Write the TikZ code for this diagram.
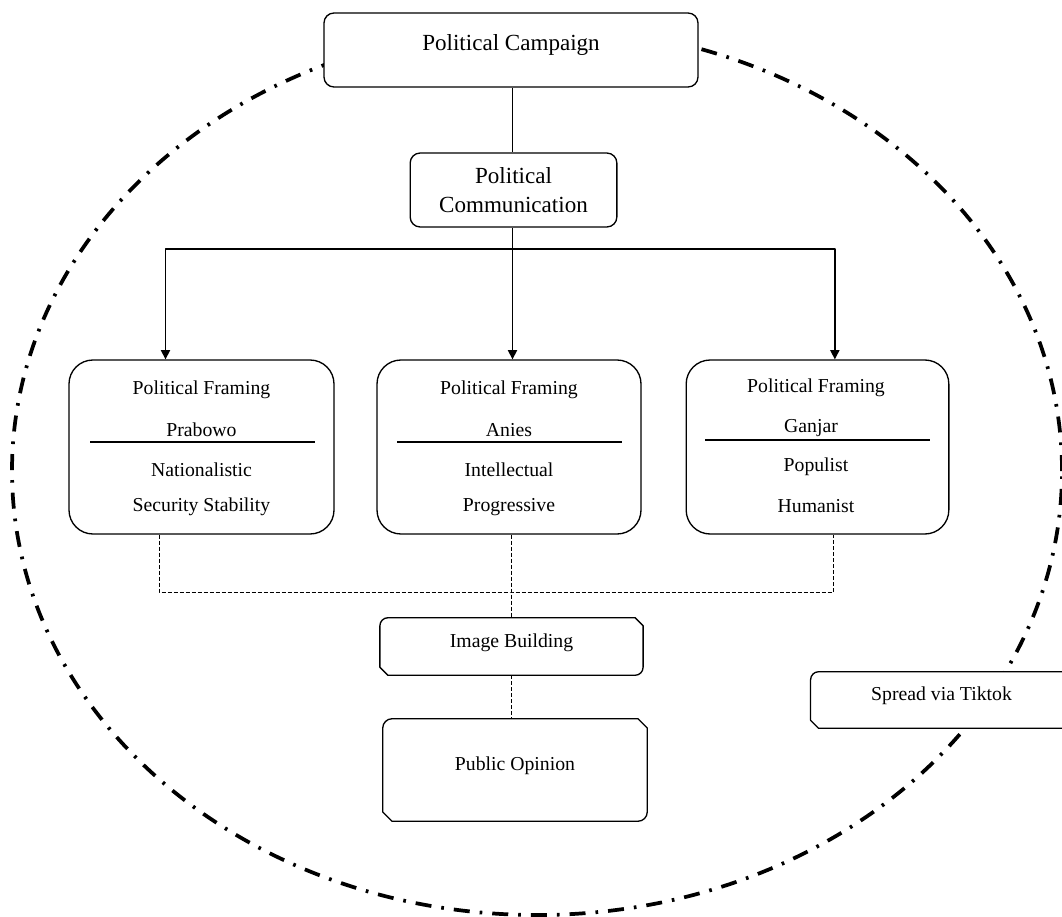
\documentclass[tikz,border=0pt]{standalone}
\usepackage{fontspec}
\setmainfont{Liberation Serif}
\usetikzlibrary{positioning, arrows.meta}

\tikzset{
  box/.style={draw, line width=1pt, fill=white, rounded corners=7.5pt, align=center,
    font=\fontsize{17.3}{21.75}\selectfont},
  framebox/.style={draw, line width=1pt, fill=white, rounded corners=18pt,
    minimum width=#1, minimum height=130.5pt},
  snip/.style={fill=white, inner sep=0pt, font=\fontsize{14.8}{18}\selectfont,
    text height=11pt, text depth=9.6pt},
  words/.style={font=\fontsize{14.8}{18}\selectfont},
  wire/.style={line width=1pt},
  link/.style={line width=0.5pt, dash pattern=on 3pt off 1.5pt},
  bar/.style={line width=1.6pt},
  orbit/.style={line width=2.8pt, dash pattern=on 12pt off 7.5pt on 2pt off 7.5pt}
}

% outline with two snipped and two rounded corners
\newcommand{\snipround}[2]{%
  \draw[wire] ([yshift=-#2]#1.north west) [rounded corners=#2] -- (#1.north west)
    [sharp corners] -- ([xshift=-#2]#1.north east) -- ([yshift=-#2]#1.north east)
    [rounded corners=#2] -- (#1.south east) [sharp corners] -- ([xshift=#2]#1.south west)
    -- ([yshift=#2]#1.south west) -- cycle;}

\begin{document}
\begin{tikzpicture}[x=0.75pt, y=-0.75pt, line join=round, >={Triangle[length=7pt, width=7pt]}]
      \useasboundingbox (0,0) rectangle (1062,916);
      \clip (0,0) rectangle (1062,916);
      % dash-dot ring
      \draw[orbit] (537,471) ellipse [x radius=393.75pt, y radius=333pt];
      % campaign and communication
      \node[box, minimum width=280.5pt, minimum height=55.5pt, text height=13pt, text depth=11.5pt] (camp) at (511,50) {Political Campaign};
      \node[box, minimum width=155pt, minimum height=55.5pt] (comm) at (513.5,190) {Political\\Communication};
      \coordinate (hub) at (512.5,249);
      \draw[wire] (hub |- camp.south) -- (hub |- comm.north);
      \draw[wire] (hub |- comm.south) -- (hub);
      % framing boxes
      \node[framebox=198.75pt] (fp) at (201.5,447) {};
      \node[framebox=198pt] (fa) at (509,447) {};
      \node[framebox=197pt] (fg) at (817.5,447) {};
      \draw[wire, ->] (hub) -| ([xshift=-27pt]fp.north);
      \draw[wire, ->] (hub) -- (hub |- fa.north);
      \draw[wire, ->] (hub) -| ([xshift=13pt]fg.north);
      % Prabowo
      \node[words] (fp1) at (201.5,390) {Political Framing};
      \node[words] (fp2) at (201.5,430) {Prabowo};
      \draw[bar] (90,442) -- (315,442);
      \node[words] (fp3) at (201.5,470) {Nationalistic};
      \node[words] (fp4) at (201.5,507) {Security Stability};
      % Anies
      \node[words] (fa1) at (509,390) {Political Framing};
      \node[words] (fa2) at (509,430) {Anies};
      \draw[bar] (397,442) -- (622,442);
      \node[words] (fa3) at (509,470) {Intellectual};
      \node[words] (fa4) at (509,507) {Progressive};
      % Ganjar
      \node[words] (fg1) at (816,388) {Political Framing};
      \node[words] (fg2) at (811,428) {Ganjar};
      \draw[bar] (705,440) -- (930,440);
      \node[words] (fg3) at (816,467) {Populist};
      \node[words] (fg4) at (816,506) {Humanist};
      % image building and opinion
      \node[snip, minimum width=197pt, minimum height=42.75pt] (img) at (511.5,646.5) {Image Building};
      \snipround{img}{6pt}
      \node[snip, minimum width=198pt, minimum height=76.5pt] (pub) at (515,770) {Public Opinion};
      \snipround{pub}{7pt}
      \node[snip, minimum width=196pt, minimum height=42pt] (tik) at (941.5,700) {Spread via Tiktok};
      \snipround{tik}{6pt}
      % dashed links
      \coordinate (bus) at (511,592);
      \draw[link] ([xshift=-32pt]fp.south) |- (bus) -| ([xshift=12pt]fg.south);
      \draw[link] (bus |- fa.south) -- (bus |- img.north);
      \draw[link] (bus |- img.south) -- (bus |- pub.north);
\end{tikzpicture}
\end{document}
